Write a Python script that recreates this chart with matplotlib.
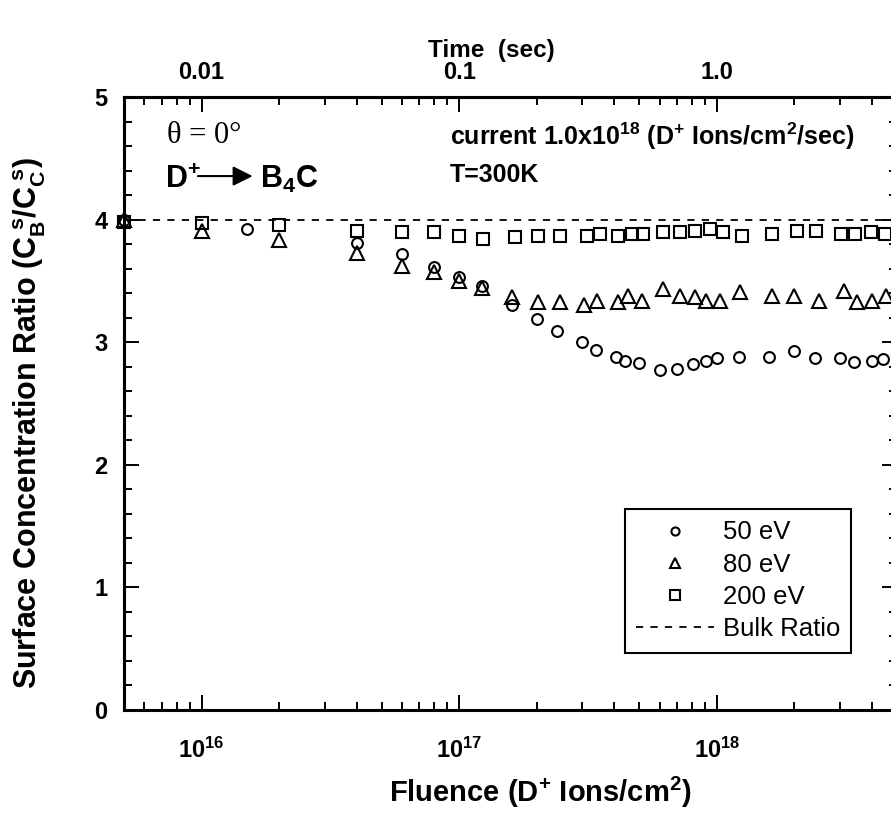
import numpy as np
import matplotlib
matplotlib.use('Agg')
import matplotlib.pyplot as plt
from matplotlib.ticker import (FixedLocator, FixedFormatter, LogLocator,
                               NullFormatter, MultipleLocator, AutoMinorLocator)

plt.rcParams['font.family'] = 'Liberation Sans'
plt.rcParams['font.weight'] = 'bold'
plt.rcParams['mathtext.fontset'] = 'custom'
plt.rcParams['mathtext.rm'] = 'Liberation Sans:bold'
plt.rcParams['mathtext.it'] = 'Liberation Sans:bold'
plt.rcParams['mathtext.bf'] = 'Liberation Sans:bold'

# ─── data ───
fluence_50 = [5e15, 1.5e16, 4e16, 6e16, 8e16, 1e17, 1.23e17, 1.6e17, 2.0e17, 2.4e17,
              3.0e17, 3.4e17, 4.05e17, 4.4e17, 5.0e17, 6.0e17, 7.0e17, 8.1e17, 9.1e17,
              1.0e18, 1.22e18, 1.6e18, 2.0e18, 2.4e18, 3.0e18, 3.4e18, 4.0e18, 4.4e18]
ratio_50 = [4.0, 3.92, 3.81, 3.72, 3.61, 3.53, 3.46, 3.30, 3.19, 3.09,
            3.00, 2.94, 2.88, 2.85, 2.83, 2.77, 2.78, 2.82, 2.85,
            2.87, 2.88, 2.88, 2.93, 2.87, 2.87, 2.84, 2.85, 2.86]

fluence_80 = [5e15, 1e16, 2e16, 4e16, 6e16, 8e16, 1e17, 1.23e17, 1.6e17, 2.03e17,
              2.46e17, 3.06e17, 3.44e17, 4.15e17, 4.52e17, 5.1e17, 6.19e17, 7.19e17,
              8.2e17, 9.1e17, 1.03e18, 1.23e18, 1.63e18, 2.0e18, 2.5e18, 3.1e18,
              3.5e18, 4.0e18, 4.55e18]
ratio_80 = [4.0, 3.91, 3.83, 3.73, 3.62, 3.57, 3.50, 3.44, 3.37, 3.33,
            3.33, 3.30, 3.34, 3.33, 3.38, 3.34, 3.43, 3.38,
            3.37, 3.34, 3.34, 3.41, 3.38, 3.38, 3.34, 3.42,
            3.33, 3.34, 3.38]

fluence_200 = [5e15, 1e16, 2e16, 4e16, 6e16, 8e16, 1e17, 1.24e17, 1.65e17, 2.03e17,
               2.46e17, 3.12e17, 3.52e17, 4.15e17, 4.67e17, 5.18e17, 6.19e17, 7.19e17,
               8.2e17, 9.4e17, 1.06e18, 1.25e18, 1.63e18, 2.04e18, 2.43e18, 3.04e18,
               3.43e18, 3.98e18, 4.48e18]
ratio_200 = [3.98, 3.97, 3.96, 3.91, 3.90, 3.90, 3.87, 3.84, 3.86, 3.87,
             3.87, 3.87, 3.88, 3.87, 3.88, 3.88, 3.90, 3.90,
             3.91, 3.92, 3.90, 3.87, 3.88, 3.91, 3.91, 3.88,
             3.88, 3.90, 3.88]

bulk_ratio = 4.0
current = 1.0e18  # D+ ions/cm^2/sec
time_ticks = [0.01, 0.1, 1.0]
time_labels = ['0.01', '0.1', '1.0']

fig = plt.figure(figsize=(8.91, 8.25), dpi=100)
ax = fig.add_axes([124/891, 115/825, 773/891, 613/825])

mk = dict(linestyle='none', mfc='none', mec='black', mew=1.5, clip_on=False, zorder=3)
ax.plot(fluence_50, ratio_50, marker='o', ms=7.8, label='50 eV', **mk)
ax.plot(fluence_80, ratio_80, marker='^', ms=9.5, label='80 eV', **mk)
ax.plot(fluence_200, ratio_200, marker='s', ms=9, label='200 eV', **mk)
ax.axhline(bulk_ratio, color='black', linestyle=(0, (4, 4)), linewidth=1.3, label='Bulk Ratio')

ax.set_xscale('log')
ax.set_xlim(5e15, 5e18)
ax.set_ylim(0, 5)
ax.yaxis.set_major_locator(MultipleLocator(1))
ax.yaxis.set_minor_locator(AutoMinorLocator(5))
ax.xaxis.set_minor_locator(LogLocator(subs=range(2, 10)))
ax.xaxis.set_minor_formatter(NullFormatter())

for s in ax.spines.values():
    s.set_linewidth(2.2)
ax.tick_params(which='both', direction='in', right=True, top=False, width=1.4)
ax.tick_params(which='major', length=11)
ax.tick_params(which='minor', length=6)
ax.tick_params(axis='y', labelsize=17, pad=12)
ax.tick_params(axis='x', labelsize=17, pad=20)

# top axis: time = fluence / current
sec = ax.secondary_xaxis('top', functions=(lambda x: x / current, lambda t: t * current))
sec.xaxis.set_major_locator(FixedLocator(time_ticks))
sec.xaxis.set_major_formatter(FixedFormatter(time_labels))
sec.xaxis.set_minor_locator(LogLocator(subs=range(2, 10)))
sec.xaxis.set_minor_formatter(NullFormatter())
sec.tick_params(which='both', direction='in', width=1.4, labelsize=17, pad=9)
sec.tick_params(which='major', length=11)
sec.tick_params(which='minor', length=6)
sec.spines['top'].set_linewidth(2.2)

fig.text(0.551, 0.939, 'Time  (sec)', ha='center', va='center', fontsize=17.5)
fig.text(0.606, 0.040, r'Fluence (D$^{+}$ Ions/cm$^{2}$)', ha='center', va='center', fontsize=21)
fig.text(0.034, 0.488, r'Surface Concentration Ratio (C$_{B}^{\ s}$/C$_{C}^{\ s}$)',
         ha='center', va='center', rotation=90, fontsize=22)

# annotations
ax.text(0.0556, 0.925, 'θ = 0°', transform=ax.transAxes, family='Liberation Serif',
        fontweight='normal', fontsize=22, va='baseline')
ax.text(0.053, 0.852, r'D$^{+}$', transform=ax.transAxes, fontsize=22, va='baseline')
ax.annotate('', xy=(0.170, 0.871), xytext=(0.092, 0.871), xycoords='axes fraction',
            arrowprops=dict(arrowstyle='-|>', color='black', lw=1.5, mutation_scale=30))
ax.text(0.176, 0.852, r'B$_{4}$C', transform=ax.transAxes, fontsize=22, va='baseline')
ax.text(0.4217, 0.922, r'current 1.0x10$^{18}$ (D$^{+}$ Ions/cm$^{2}$/sec)',
        transform=ax.transAxes, fontsize=18, va='baseline')
ax.text(0.4217, 0.862, 'T=300K', transform=ax.transAxes, fontsize=18, va='baseline')

leg = ax.legend(loc='upper left', bbox_to_anchor=(0.648, 0.328), frameon=True,
                fancybox=False, edgecolor='black', framealpha=1,
                prop={'family': 'Liberation Sans', 'weight': 'normal', 'size': 18.5},
                handlelength=3.0, handletextpad=0.35, labelspacing=0.32,
                borderpad=0.45, markerscale=0.75, borderaxespad=0)
leg.get_frame().set_linewidth(1.5)

fig.savefig('out.png', dpi=100)
